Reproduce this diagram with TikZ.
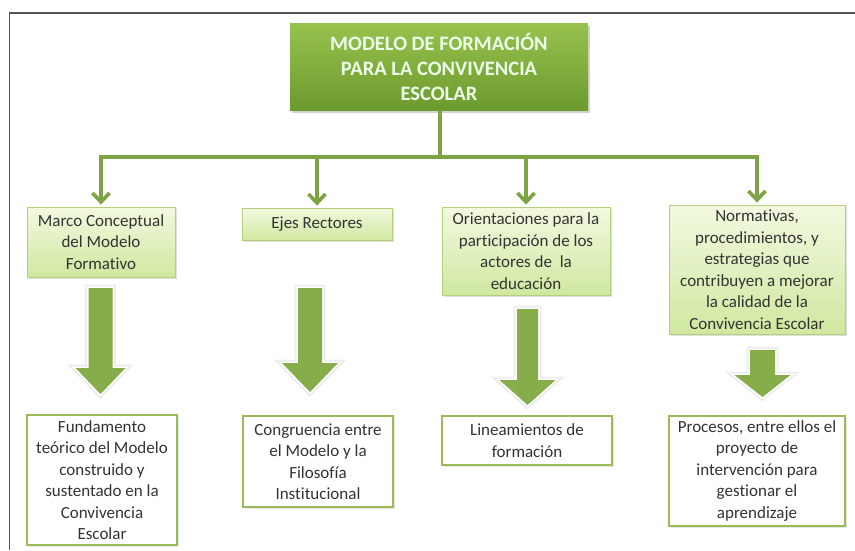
\documentclass[tikz,border=0pt]{standalone}
\usepackage{fontspec}
\setmainfont{Carlito}[Ligatures=NoCommon]
\usetikzlibrary{arrows.meta,shadows}
\definecolor{lineg}{HTML}{7DA444}
\definecolor{blockg}{HTML}{86AD4A}
\definecolor{titletop}{HTML}{97C24E}
\definecolor{titlebot}{HTML}{6C9A2D}
\definecolor{lvtop}{HTML}{F2F9E0}
\definecolor{lvbot}{HTML}{D0E8A0}
\definecolor{lvborder}{HTML}{B4D07C}
\definecolor{l2border}{HTML}{9BBB59}
\definecolor{txt}{HTML}{333333}
\definecolor{frame}{HTML}{555555}
\begin{document}
\begin{tikzpicture}[x=1pt,y=-1pt,
  titlebox/.style={rectangle, top color=titletop, bottom color=titlebot, draw=none,
    minimum width=298pt, minimum height=87pt, align=center, text=white!92!green,
    font=\fontsize{20.5}{25}\selectfont\bfseries,
    drop shadow={opacity=0.35, shadow xshift=2pt, shadow yshift=-2.5pt}},
  lvone/.style={rectangle, top color=lvtop, bottom color=lvbot, draw=lvborder, line width=0.8pt,
    align=center, text=txt, inner sep=2pt, font=\fontsize{17}{21.5}\selectfont,
    drop shadow={opacity=0.25, shadow xshift=1.5pt, shadow yshift=-1.5pt}},
  lvtwo/.style={rectangle, fill=white, draw=l2border, line width=2.6pt,
    align=center, text=txt, inner sep=2pt, font=\fontsize{17}{21.5}\selectfont,
    drop shadow={opacity=0.2, shadow xshift=1.5pt, shadow yshift=-1.5pt}},
  conn/.style={draw=lineg, line width=3.6pt, line join=miter,
    -{Straight Barb[length=9pt,width=17pt]}},
  glow/.style={draw=black!7, line width=7pt, line join=miter},
  glowin/.style={draw=white, line width=3pt, line join=miter},
  blockfill/.style={fill=blockg}
]
\useasboundingbox (0,0) rectangle (855,550);
% frame
\draw[frame, line width=1.3pt] (9.5,550) -- (9.5,13) -- (855,13);

% nodes
\node[titlebox] (top) at (439,66.5) {MODELO DE FORMACIÓN\\PARA LA CONVIVENCIA\\ESCOLAR};

\node[lvone, minimum width=148pt, minimum height=70pt] (a1) at (101,242)
  {Marco Conceptual\\del Modelo\\Formativo};
\node[lvone, minimum width=150pt, minimum height=32pt] (b1) at (317,224)
  {Ejes Rectores};
\node[lvone, minimum width=168pt, minimum height=88pt] (c1) at (526,251)
  {Orientaciones para la\\participación de los\\actores de\ \ la\\educación};
\node[lvone, minimum width=176pt, minimum height=129pt] (d1) at (757,269.5)
  {Normativas,\\procedimientos, y\\estrategias que\\contribuyen a mejorar\\la calidad de la\\Convivencia Escolar};

\node[lvtwo, minimum width=150pt, minimum height=130pt] (a2) at (102,480)
  {Fundamento\\teórico del Modelo\\construido y\\sustentado en la\\Convivencia\\Escolar};
\node[lvtwo, minimum width=150pt, minimum height=91pt] (b2) at (318,461.5)
  {Congruencia entre\\el Modelo y la\\Filosofía\\Institucional};
\node[lvtwo, minimum width=170pt, minimum height=49pt] (c2) at (527,440.5)
  {Lineamientos de\\formación};
\node[lvtwo, minimum width=176pt, minimum height=110pt] (d2) at (757,471)
  {Procesos, entre ellos el\\proyecto de\\intervención para\\gestionar el\\aprendizaje};

% connectors
\coordinate (hub) at (440,157);
\draw[draw=lineg, line width=3.6pt] (top.south -| hub) -- (hub);
\draw[conn, shorten >=2pt] (hub) -| (a1.north);
\draw[conn, shorten >=2pt] (hub) -| (b1.north);
\draw[conn, shorten >=2pt] (hub) -| (c1.north);
\draw[conn, shorten >=2pt] (hub) -| (d1.north);

% block arrows
\foreach \cx/\sw/\st/\hw/\ht/\tip in {100.5/12/288/25/368/394, 310/12/288/28/363/392, 527.5/10.5/309/28/380/405, 762.5/12.5/350/28/375/397}{
  \path[glow] (\cx-\sw,\st) -- (\cx+\sw,\st) -- (\cx+\sw,\ht) -- (\cx+\hw,\ht) -- (\cx,\tip)
     -- (\cx-\hw,\ht) -- (\cx-\sw,\ht) -- cycle;
  \path[glowin] (\cx-\sw,\st) -- (\cx+\sw,\st) -- (\cx+\sw,\ht) -- (\cx+\hw,\ht) -- (\cx,\tip)
     -- (\cx-\hw,\ht) -- (\cx-\sw,\ht) -- cycle;
  \path[blockfill] (\cx-\sw,\st) -- (\cx+\sw,\st) -- (\cx+\sw,\ht) -- (\cx+\hw,\ht) -- (\cx,\tip)
     -- (\cx-\hw,\ht) -- (\cx-\sw,\ht) -- cycle;
}
\end{tikzpicture}
\end{document}
